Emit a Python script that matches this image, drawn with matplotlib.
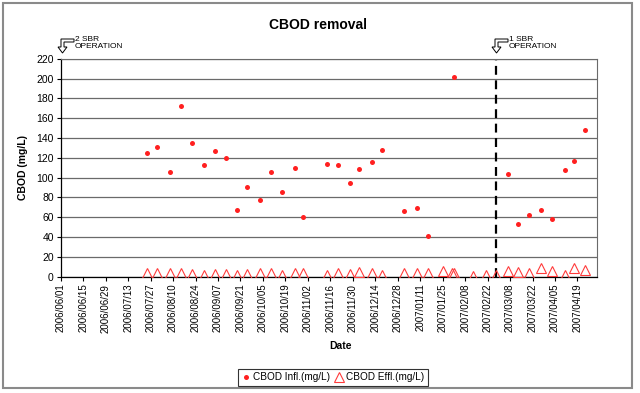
import numpy as np
import matplotlib
matplotlib.use('Agg')
import matplotlib.pyplot as plt
import matplotlib.dates as mdates
from matplotlib.patches import Rectangle, Polygon
import datetime as dt

plt.rcParams['font.family'] = ['Liberation Sans', 'DejaVu Sans']

# influent CBOD (mg/L)
infl_dates = ['2006-07-25', '2006-07-31', '2006-08-08', '2006-08-15', '2006-08-22',
              '2006-08-29', '2006-09-05', '2006-09-12', '2006-09-19', '2006-09-25',
              '2006-10-03', '2006-10-10', '2006-10-17', '2006-10-25', '2006-10-30',
              '2006-11-14', '2006-11-21', '2006-11-28', '2006-12-04', '2006-12-12',
              '2006-12-18', '2007-01-01', '2007-01-09', '2007-01-16', '2007-02-01',
              '2007-03-07', '2007-03-13', '2007-03-20', '2007-03-27', '2007-04-03',
              '2007-04-11', '2007-04-17', '2007-04-24']
infl_vals = [125, 131, 106, 172, 135, 113, 127, 120, 67, 91,
             77, 106, 85, 110, 60, 114, 113, 95, 109, 116,
             128, 66, 69, 41, 202, 104, 53, 62, 67, 58,
             108, 117, 148]

# effluent CBOD (mg/L)
effl_dates = ['2006-07-25', '2006-07-31', '2006-08-08', '2006-08-15', '2006-08-22',
              '2006-08-29', '2006-09-05', '2006-09-12', '2006-09-19', '2006-09-25',
              '2006-10-03', '2006-10-10', '2006-10-17', '2006-10-25', '2006-10-30',
              '2006-11-14', '2006-11-21', '2006-11-28', '2006-12-04', '2006-12-12',
              '2006-12-18', '2007-01-01', '2007-01-09', '2007-01-16', '2007-01-25',
              '2007-01-31', '2007-02-01', '2007-02-13', '2007-02-21', '2007-02-27',
              '2007-03-07', '2007-03-13', '2007-03-20', '2007-03-27', '2007-04-03',
              '2007-04-11', '2007-04-17', '2007-04-24']
effl_vals = [4, 3.7, 3.7, 4, 2.4, 1.7, 2.7, 2.4, 1.7, 2.4,
             4, 4, 2, 4, 4, 2, 4, 2.4, 4.7, 4,
             1.3, 4, 4, 4, 5.7, 3.7, 3.4, 1, 1.3, 2,
             5.7, 4.7, 3.7, 9, 5.7, 1.7, 9, 7]

switch_date = '2007-02-27'

def to_dt(lst):
    return [dt.datetime.strptime(s, '%Y-%m-%d') for s in lst]

W, H = 640, 393
fig = plt.figure(figsize=(W / 100, H / 100), dpi=100)

# plot area in pixels
L, R, T, B = 60.7, 596.7, 58.7, 276.7
ax = fig.add_axes([L / W, 1 - B / H, (R - L) / W, (B - T) / H])

ax.plot(to_dt(infl_dates), infl_vals, 'o', color='#ff2020', markersize=3.6,
        markeredgewidth=0, label='CBOD Infl.(mg/L)', zorder=3)
ax.plot(to_dt(effl_dates), effl_vals, '^', markerfacecolor='none',
        markeredgecolor='#ff3b3b', markersize=6.5, markeredgewidth=0.8,
        label='CBOD Effl.(mg/L)', zorder=3)

sw = dt.datetime.strptime(switch_date, '%Y-%m-%d')
ax.plot([sw, sw], [0, 220], color='black', lw=1.6, dashes=(4, 2.5), zorder=2)

start = dt.datetime(2006, 6, 1)
ticks = [start + dt.timedelta(days=14 * i) for i in range(24)]
ax.set_xlim(start, start + dt.timedelta(days=334))
ax.set_xticks(ticks)
ax.xaxis.set_major_formatter(mdates.DateFormatter('%Y/%m/%d'))
plt.setp(ax.get_xticklabels(), rotation=90, fontsize=7)

ax.set_ylim(0, 220)
ax.set_yticks(np.arange(0, 221, 20))
ax.tick_params(axis='y', labelsize=7.5, length=3, width=0.8, pad=2)
ax.tick_params(axis='x', length=3, width=0.8, pad=2)
ax.yaxis.grid(True, color='#6a6a6a', lw=0.9)
ax.set_axisbelow(True)
for s in ['top', 'right']:
    ax.spines[s].set_color('#6a6a6a')
for s in ['left', 'bottom']:
    ax.spines[s].set_color('black')
    ax.spines[s].set_linewidth(0.9)

fig.text(318 / W, 1 - 25 / H, 'CBOD removal', ha='center', va='center',
         fontsize=10, fontweight='bold')
fig.text(23 / W, 1 - 167 / H, 'CBOD (mg/L)', ha='center', va='center',
         rotation=90, fontsize=7.5, fontweight='bold')
fig.text(340 / W, 1 - 346 / H, 'Date', ha='center', va='center',
         fontsize=7.5, fontweight='bold')

# bent arrow markers with notes
def bent_arrow(x0, y0):
    pts = [(16, 0), (3, 0), (3, 8), (0, 8), (4.5, 14), (9, 8), (6, 8), (6, 3), (16, 3)]
    pts = [((x0 + px) / W, 1 - (y0 + py) / H) for px, py in pts]
    fig.add_artist(Polygon(pts, closed=True, facecolor='white', edgecolor='black',
                           lw=0.7, transform=fig.transFigure))

bent_arrow(58, 39)
fig.text(75 / W, 1 - 36 / H, '2 SBR\nOPERATION', ha='left', va='top',
         fontsize=6, linespacing=1.0)
bent_arrow(492, 39)
fig.text(509 / W, 1 - 36 / H, '1 SBR\nOPERATION', ha='left', va='top',
         fontsize=6, linespacing=1.0)

leg = fig.legend(loc='center', bbox_to_anchor=(333 / W, 1 - 377 / H), ncol=2,
                 fontsize=7.2, frameon=True, fancybox=False, handlelength=0.9,
                 handletextpad=0.25, columnspacing=0.4, borderpad=0.35)
leg.get_frame().set_edgecolor('black')
leg.get_frame().set_linewidth(0.8)

fig.add_artist(Rectangle((3 / W, 1 - 388 / H), 629 / W, 385 / H, fill=False,
                         edgecolor='#8a8a8a', lw=1.5, transform=fig.transFigure))

fig.savefig('out.png', dpi=100)
